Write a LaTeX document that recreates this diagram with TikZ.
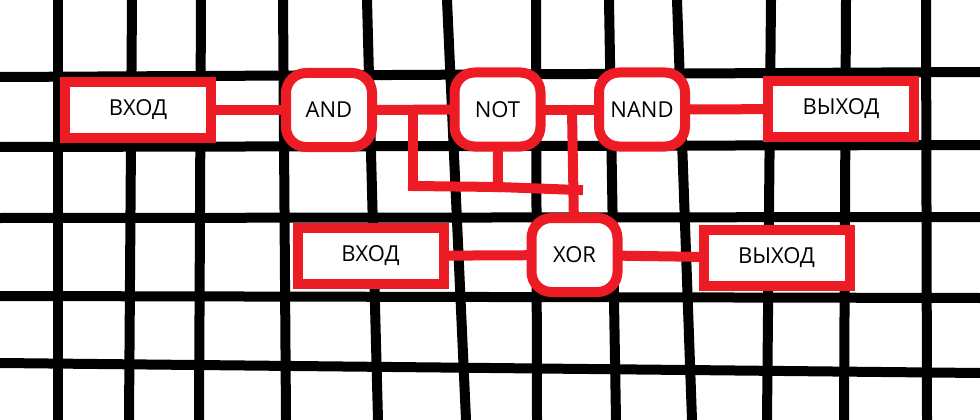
\documentclass[tikz,border=0pt]{standalone}
\usepackage{fontspec}
\setmainfont{Open Sans}
\usetikzlibrary{shapes,arrows}
\definecolor{paintred}{HTML}{ED1C24}
\tikzstyle{gridline} = [draw=black, line width=10pt]
\tikzstyle{wire} = [draw=paintred, line width=10pt, line cap=rect]
\tikzstyle{port} = [draw=paintred, fill=white, rectangle, line width=10pt, inner sep=0pt, minimum height=56pt, minimum width=146pt, font=\fontsize{22}{26}\selectfont]
\tikzstyle{gate} = [port, rounded corners=20pt, minimum height=74pt, minimum width=86pt]

\begin{document}
\begin{tikzpicture}[-, x=1pt, y=-1pt]
\useasboundingbox (0,0) rectangle (980,420);

% grid behind
\foreach \t/\b in {58/58, 132/129, 201/199, 283/286, 367/378, 447/466, 536/537, 609/616, 677/692, 771/767, 846/844, 926/927}
  \draw[gridline] (\t,0) -- (\b,420);
\foreach \l/\r in {77/72, 147/145, 218/217, 296/298, 363/373}
  \draw[gridline] (0,\l) -- (980,\r);

\node[port, xshift=138pt, yshift=-110pt] (in1) [] {ВХОД};
\node[gate, xshift=329pt, yshift=-110pt] (and) [] {AND};
\node[gate, xshift=497.5pt, yshift=-109.5pt] (not) [] {NOT};
\node[gate, xshift=642pt, yshift=-109.5pt] (nand) [] {NAND};
\node[port, xshift=841pt, yshift=-109pt] (out1) [] {ВЫХОД};

\node[port, xshift=370.5pt, yshift=-256pt] (in2) [] {ВХОД};
\node[gate, xshift=574.5pt, yshift=-255pt] (xor) [] {XOR};
\node[port, xshift=776.5pt, yshift=-258pt] (out2) [] {ВЫХОД};

\coordinate (j1) at (413,110);
\coordinate (j2) at (572,110);
\coordinate (k1) at (413,186);
\coordinate (k2) at (498,187);
\coordinate (k3) at (578,190);

\path
(in1) edge [wire] (and)
(and) edge [wire] (not)
(not) edge [wire] (nand)
(nand) edge [wire] (out1);

\path
(in2) edge [wire] (xor)
(xor) edge [wire] (out2);

% branches
\path
(j1) edge [wire] (k1)
(k1) edge [wire] (k2)
(k2) edge [wire] (k3)
(not) edge [wire] (k2)
(j2) edge [wire] (xor);

\end{tikzpicture}
\end{document}
